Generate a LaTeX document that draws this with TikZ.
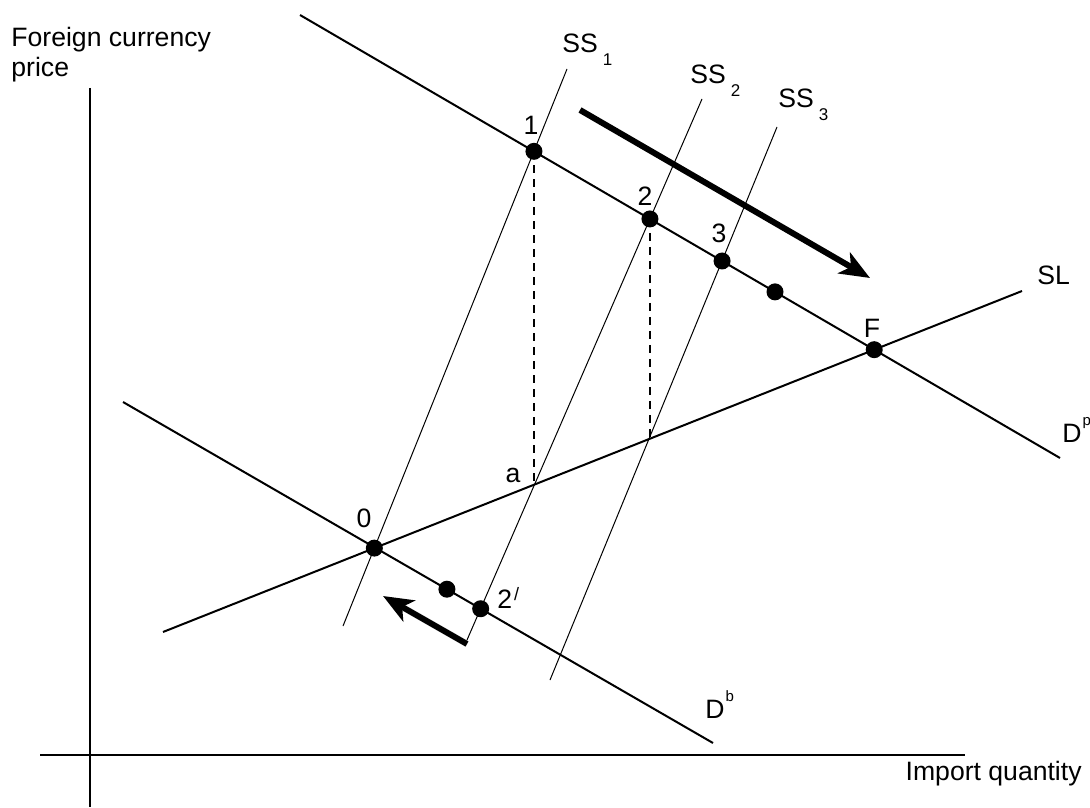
\documentclass[tikz,border=0pt]{standalone}
\usepackage{fontspec}
\setmainfont{Liberation Sans}
\usetikzlibrary{arrows.meta}

\newcommand{\subs}[1]{\kern2.5pt\raisebox{-6.5pt}{\fontsize{8.5}{8.5}\selectfont #1}}
\newcommand{\sups}[1]{\kern0.5pt\raisebox{8.5pt}{\fontsize{7.5}{7.5}\selectfont #1}}

\tikzset{
  curve/.style={line width=1pt},
  shiftline/.style={line width=0.5pt},
  axis/.style={line width=1.2pt},
  guide/.style={line width=1pt, dash pattern=on 4pt off 3pt},
  move/.style={line width=3pt, -{Stealth[length=15pt,width=12pt,inset=4pt]}},
  dot/.style={circle, fill, inner sep=0pt, minimum size=8.5pt},
  lbl/.style={inner sep=0pt, font=\fontsize{13.3}{15}\selectfont},
}

\begin{document}
\begin{tikzpicture}[x=0.5pt,y=-0.5pt]
  \useasboundingbox (0,0) rectangle (1090,807);

  % Axes
  \draw[axis] (90,88) -- (90,807);
  \draw[axis] (40,755) -- (965,755);
  \node[lbl, anchor=north west, align=left] (yl) at (11,27) {Foreign currency\\price};
  \node[lbl, anchor=base east] (xl) at (1082,780) {Import quantity};

  % Curve end points
  \coordinate (dpL) at (300,15);   \coordinate (dpR) at (1060,458);
  \coordinate (slL) at (163,632);  \coordinate (slR) at (1022,291);
  \coordinate (dbL) at (123,402);  \coordinate (dbR) at (713,743);
  \coordinate (s1B) at (343,626);  \coordinate (s1T) at (567,69);
  \coordinate (s2B) at (467,640);  \coordinate (s2T) at (702,99);
  \coordinate (s3B) at (550,680);  \coordinate (s3T) at (777,127);

  % Demand and supply lines
  \draw[curve] (dpL) -- (dpR);
  \draw[curve] (slL) -- (slR);
  \draw[curve] (dbL) -- (dbR);
  \draw[shiftline] (s1B) -- (s1T);
  \draw[shiftline] (s2B) -- (s2T);
  \draw[shiftline] (s3B) -- (s3T);

  % Intersections
  \coordinate (pa) at (intersection of s2B--s2T and slL--slR);
  \coordinate (pb) at (intersection of s3B--s3T and slL--slR);
  \path (dpL) -- (dpR) coordinate[pos=0.625] (pe);
  \path (dbL) -- (dbR) coordinate[pos=0.549] (pd);

  % Dashed guides
  \node[dot] (p1) at (intersection of s1B--s1T and dpL--dpR) {};
  \node[dot] (p2) at (intersection of s2B--s2T and dpL--dpR) {};
  \draw[guide] (p1.center) -- (p1.center |- pa);
  \draw[guide] (p2.center) -- (p2.center |- pb);

  % Points
  \node[dot] (p3) at (intersection of s3B--s3T and dpL--dpR) {};
  \node[dot] (p4) at (pe) {};
  \node[dot] (pF) at (intersection of slL--slR and dpL--dpR) {};
  \node[dot] (p0) at (intersection of s1B--s1T and slL--slR) {};
  \node[dot] (p5) at (pd) {};
  \node[dot] (p2b) at (intersection of s2B--s2T and dbL--dbR) {};

  % Point labels
  \node[lbl, anchor=base] at (531,135) {1};
  \node[lbl, anchor=base] at (645,206) {2};
  \node[lbl, anchor=base] at (719,243) {3};
  \node[lbl, anchor=base] at (872,337) {F};
  \node[lbl, anchor=base] at (364,527) {0};
  \node[lbl, anchor=base] at (513,482) {a};
  \node[lbl, anchor=base west] at (497,608) {2\kern1pt\raisebox{4pt}{\fontsize{9}{9}\selectfont /}};

  % Curve labels
  \node[lbl, anchor=base west] at (562,53) {SS\subs{1}};
  \node[lbl, anchor=base west] at (690,84) {SS\subs{2}};
  \node[lbl, anchor=base west] at (778,108) {SS\subs{3}};
  \node[lbl, anchor=base west] at (1037,285) {SL};
  \node[lbl, anchor=base west] at (1062,442) {D\sups{p}};
  \node[lbl, anchor=base west] at (705,718) {D\sups{b}};

  % Adjustment arrows
  \coordinate (mvA) at (580,110);  \coordinate (mvB) at (870,278);
  \coordinate (mvC) at (467,644);  \coordinate (mvD) at (383,596);
  \draw[move] (mvA) -- (mvB);
  \draw[move] (mvC) -- (mvD);
\end{tikzpicture}
\end{document}
